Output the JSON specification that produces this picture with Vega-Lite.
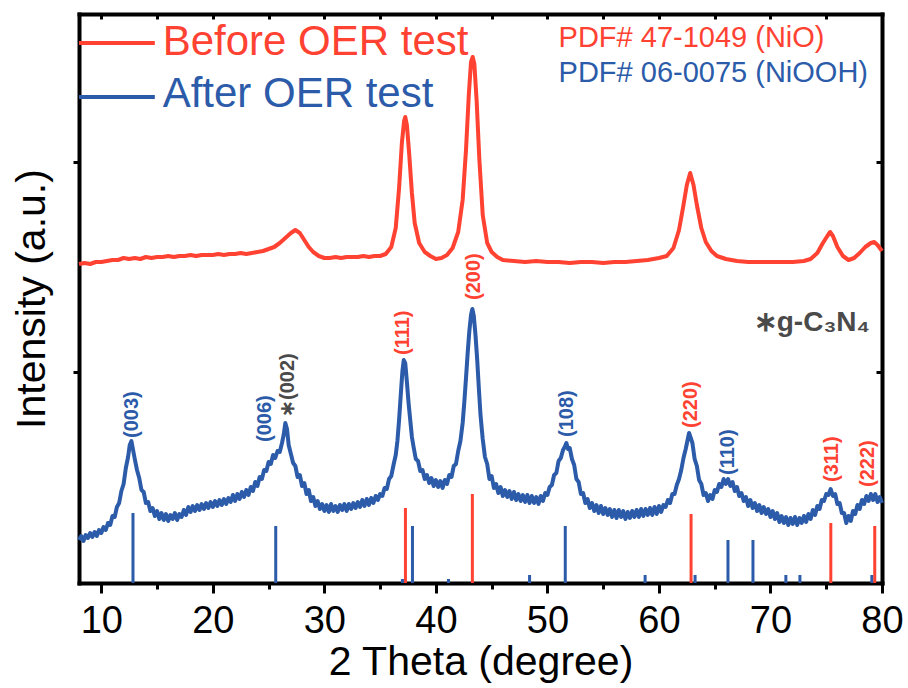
{
  "$schema": "https://vega.github.io/schema/vega-lite/v6.json",
  "width": 803,
  "height": 569,
  "autosize": {"type": "none"},
  "padding": {"left": 79, "top": 14, "right": 26, "bottom": 105},
  "background": "white",
  "config": {"view": {"stroke": null}, "font": "Liberation Sans"},
  "datasets": {
    "curves": [
      {"s":"Before","x":8,"y":319},{"s":"Before","x":8.5,"y":320},{"s":"Before","x":9,"y":319},{"s":"Before","x":9.5,"y":321},{"s":"Before","x":10,"y":321},{"s":"Before","x":10.5,"y":322},{"s":"Before","x":11,"y":323},{"s":"Before","x":11.5,"y":323},{"s":"Before","x":12,"y":325},{"s":"Before","x":12.5,"y":324},{"s":"Before","x":13,"y":325},{"s":"Before","x":13.5,"y":324},{"s":"Before","x":14,"y":326},{"s":"Before","x":14.5,"y":325},{"s":"Before","x":15,"y":326},{"s":"Before","x":15.5,"y":326},{"s":"Before","x":16,"y":327},{"s":"Before","x":16.5,"y":326},{"s":"Before","x":17,"y":327},{"s":"Before","x":17.5,"y":327},{"s":"Before","x":18,"y":328},{"s":"Before","x":18.5,"y":327},{"s":"Before","x":19,"y":328},{"s":"Before","x":19.5,"y":328},{"s":"Before","x":20,"y":328},{"s":"Before","x":20.5,"y":329},{"s":"Before","x":21,"y":328},{"s":"Before","x":21.5,"y":329},{"s":"Before","x":22,"y":329},{"s":"Before","x":22.5,"y":330},{"s":"Before","x":23,"y":329},{"s":"Before","x":23.5,"y":330},{"s":"Before","x":24,"y":331},{"s":"Before","x":24.5,"y":332},{"s":"Before","x":25,"y":334},{"s":"Before","x":25.5,"y":336},{"s":"Before","x":26,"y":340},{"s":"Before","x":26.5,"y":345},{"s":"Before","x":27,"y":350},{"s":"Before","x":27.4,"y":353},{"s":"Before","x":27.8,"y":350},{"s":"Before","x":28.2,"y":343},{"s":"Before","x":28.6,"y":336},{"s":"Before","x":29,"y":331},{"s":"Before","x":29.5,"y":327},{"s":"Before","x":30,"y":325},{"s":"Before","x":30.5,"y":325},{"s":"Before","x":31,"y":326},{"s":"Before","x":31.5,"y":325},{"s":"Before","x":32,"y":326},{"s":"Before","x":32.5,"y":326},{"s":"Before","x":33,"y":326},{"s":"Before","x":33.5,"y":327},{"s":"Before","x":34,"y":326},{"s":"Before","x":34.5,"y":327},{"s":"Before","x":35,"y":327},{"s":"Before","x":35.5,"y":329},{"s":"Before","x":36,"y":336},{"s":"Before","x":36.4,"y":355},{"s":"Before","x":36.7,"y":395},{"s":"Before","x":36.95,"y":440},{"s":"Before","x":37.15,"y":462},{"s":"Before","x":37.25,"y":466},{"s":"Before","x":37.4,"y":458},{"s":"Before","x":37.6,"y":430},{"s":"Before","x":37.85,"y":390},{"s":"Before","x":38.1,"y":360},{"s":"Before","x":38.5,"y":340},{"s":"Before","x":39,"y":331},{"s":"Before","x":39.5,"y":327},{"s":"Before","x":40,"y":324},{"s":"Before","x":40.5,"y":325},{"s":"Before","x":41,"y":328},{"s":"Before","x":41.5,"y":335},{"s":"Before","x":42,"y":351},{"s":"Before","x":42.4,"y":383},{"s":"Before","x":42.7,"y":433},{"s":"Before","x":42.95,"y":488},{"s":"Before","x":43.15,"y":521},{"s":"Before","x":43.3,"y":526},{"s":"Before","x":43.45,"y":519},{"s":"Before","x":43.65,"y":483},{"s":"Before","x":43.9,"y":423},{"s":"Before","x":44.2,"y":368},{"s":"Before","x":44.6,"y":340},{"s":"Before","x":45,"y":331},{"s":"Before","x":45.5,"y":326},{"s":"Before","x":46,"y":323},{"s":"Before","x":47,"y":322},{"s":"Before","x":48,"y":321},{"s":"Before","x":49,"y":322},{"s":"Before","x":50,"y":321},{"s":"Before","x":51,"y":321},{"s":"Before","x":52,"y":320},{"s":"Before","x":53,"y":321},{"s":"Before","x":54,"y":321},{"s":"Before","x":55,"y":320},{"s":"Before","x":56,"y":321},{"s":"Before","x":57,"y":321},{"s":"Before","x":58,"y":322},{"s":"Before","x":59,"y":323},{"s":"Before","x":60,"y":325},{"s":"Before","x":60.7,"y":327},{"s":"Before","x":61.3,"y":335},{"s":"Before","x":61.8,"y":353},{"s":"Before","x":62.2,"y":378},{"s":"Before","x":62.5,"y":398},{"s":"Before","x":62.8,"y":410},{"s":"Before","x":63.1,"y":398},{"s":"Before","x":63.4,"y":378},{"s":"Before","x":63.8,"y":355},{"s":"Before","x":64.2,"y":341},{"s":"Before","x":64.7,"y":332},{"s":"Before","x":65.2,"y":327},{"s":"Before","x":66,"y":324},{"s":"Before","x":67,"y":322},{"s":"Before","x":68,"y":321},{"s":"Before","x":69,"y":321},{"s":"Before","x":70,"y":321},{"s":"Before","x":71,"y":321},{"s":"Before","x":72,"y":321},{"s":"Before","x":73,"y":322},{"s":"Before","x":73.6,"y":324},{"s":"Before","x":74.2,"y":330},{"s":"Before","x":74.7,"y":340},{"s":"Before","x":75.1,"y":347},{"s":"Before","x":75.35,"y":351},{"s":"Before","x":75.6,"y":347},{"s":"Before","x":76,"y":336},{"s":"Before","x":76.5,"y":327},{"s":"Before","x":77,"y":323},{"s":"Before","x":77.5,"y":325},{"s":"Before","x":78,"y":330},{"s":"Before","x":78.5,"y":336},{"s":"Before","x":79,"y":340},{"s":"Before","x":79.3,"y":341},{"s":"Before","x":79.6,"y":338},{"s":"Before","x":80,"y":332},
      {"s":"After","x":8.0,"y":43},{"s":"After","x":8.2,"y":47},{"s":"After","x":8.4,"y":42},{"s":"After","x":8.6,"y":48},{"s":"After","x":8.8,"y":45},{"s":"After","x":9.0,"y":50},{"s":"After","x":9.2,"y":46},{"s":"After","x":9.4,"y":51},{"s":"After","x":9.6,"y":47},{"s":"After","x":9.8,"y":53},{"s":"After","x":10.0,"y":50},{"s":"After","x":10.2,"y":56},{"s":"After","x":10.4,"y":53},{"s":"After","x":10.6,"y":60},{"s":"After","x":10.8,"y":58},{"s":"After","x":11.0,"y":67},{"s":"After","x":11.2,"y":66},{"s":"After","x":11.4,"y":76},{"s":"After","x":11.6,"y":80},{"s":"After","x":11.8,"y":92},{"s":"After","x":12.0,"y":99},{"s":"After","x":12.2,"y":115},{"s":"After","x":12.4,"y":126},{"s":"After","x":12.55,"y":138},{"s":"After","x":12.7,"y":142},{"s":"After","x":12.85,"y":133},{"s":"After","x":13.0,"y":124},{"s":"After","x":13.2,"y":113},{"s":"After","x":13.4,"y":105},{"s":"After","x":13.6,"y":93},{"s":"After","x":13.8,"y":91},{"s":"After","x":14.0,"y":80},{"s":"After","x":14.2,"y":81},{"s":"After","x":14.4,"y":72},{"s":"After","x":14.6,"y":75},{"s":"After","x":14.8,"y":67},{"s":"After","x":15.0,"y":72},{"s":"After","x":15.2,"y":64},{"s":"After","x":15.4,"y":70},{"s":"After","x":15.6,"y":63},{"s":"After","x":15.8,"y":69},{"s":"After","x":16.0,"y":62},{"s":"After","x":16.2,"y":68},{"s":"After","x":16.4,"y":64},{"s":"After","x":16.6,"y":70},{"s":"After","x":16.8,"y":63},{"s":"After","x":17.0,"y":69},{"s":"After","x":17.2,"y":66},{"s":"After","x":17.4,"y":73},{"s":"After","x":17.6,"y":68},{"s":"After","x":17.8,"y":76},{"s":"After","x":18.0,"y":71},{"s":"After","x":18.2,"y":77},{"s":"After","x":18.4,"y":72},{"s":"After","x":18.6,"y":78},{"s":"After","x":18.8,"y":73},{"s":"After","x":19.0,"y":79},{"s":"After","x":19.2,"y":74},{"s":"After","x":19.4,"y":80},{"s":"After","x":19.6,"y":75},{"s":"After","x":19.8,"y":81},{"s":"After","x":20.0,"y":76},{"s":"After","x":20.2,"y":82},{"s":"After","x":20.4,"y":77},{"s":"After","x":20.6,"y":83},{"s":"After","x":20.8,"y":78},{"s":"After","x":21.0,"y":84},{"s":"After","x":21.2,"y":79},{"s":"After","x":21.4,"y":85},{"s":"After","x":21.6,"y":81},{"s":"After","x":21.8,"y":88},{"s":"After","x":22.0,"y":82},{"s":"After","x":22.2,"y":89},{"s":"After","x":22.4,"y":84},{"s":"After","x":22.6,"y":91},{"s":"After","x":22.8,"y":86},{"s":"After","x":23.0,"y":93},{"s":"After","x":23.2,"y":88},{"s":"After","x":23.4,"y":96},{"s":"After","x":23.6,"y":92},{"s":"After","x":23.8,"y":101},{"s":"After","x":24.0,"y":97},{"s":"After","x":24.2,"y":106},{"s":"After","x":24.4,"y":104},{"s":"After","x":24.6,"y":113},{"s":"After","x":24.8,"y":112},{"s":"After","x":25.0,"y":121},{"s":"After","x":25.2,"y":119},{"s":"After","x":25.4,"y":128},{"s":"After","x":25.6,"y":125},{"s":"After","x":25.8,"y":132},{"s":"After","x":26.0,"y":131},{"s":"After","x":26.2,"y":140},{"s":"After","x":26.35,"y":148},{"s":"After","x":26.5,"y":160},{"s":"After","x":26.65,"y":154},{"s":"After","x":26.8,"y":138},{"s":"After","x":27.0,"y":129},{"s":"After","x":27.2,"y":120},{"s":"After","x":27.4,"y":117},{"s":"After","x":27.6,"y":106},{"s":"After","x":27.8,"y":108},{"s":"After","x":28.0,"y":97},{"s":"After","x":28.2,"y":100},{"s":"After","x":28.4,"y":89},{"s":"After","x":28.6,"y":93},{"s":"After","x":28.8,"y":82},{"s":"After","x":29.0,"y":86},{"s":"After","x":29.2,"y":77},{"s":"After","x":29.4,"y":82},{"s":"After","x":29.6,"y":74},{"s":"After","x":29.8,"y":79},{"s":"After","x":30.0,"y":72},{"s":"After","x":30.2,"y":78},{"s":"After","x":30.4,"y":71},{"s":"After","x":30.6,"y":79},{"s":"After","x":30.8,"y":72},{"s":"After","x":31.0,"y":77},{"s":"After","x":31.2,"y":71},{"s":"After","x":31.4,"y":78},{"s":"After","x":31.6,"y":73},{"s":"After","x":31.8,"y":79},{"s":"After","x":32.0,"y":72},{"s":"After","x":32.2,"y":79},{"s":"After","x":32.4,"y":74},{"s":"After","x":32.6,"y":80},{"s":"After","x":32.8,"y":75},{"s":"After","x":33.0,"y":81},{"s":"After","x":33.2,"y":76},{"s":"After","x":33.4,"y":83},{"s":"After","x":33.6,"y":77},{"s":"After","x":33.8,"y":84},{"s":"After","x":34.0,"y":78},{"s":"After","x":34.2,"y":85},{"s":"After","x":34.4,"y":80},{"s":"After","x":34.6,"y":87},{"s":"After","x":34.8,"y":83},{"s":"After","x":35.0,"y":89},{"s":"After","x":35.2,"y":87},{"s":"After","x":35.4,"y":95},{"s":"After","x":35.6,"y":94},{"s":"After","x":35.8,"y":104},{"s":"After","x":36.0,"y":107},{"s":"After","x":36.2,"y":118},{"s":"After","x":36.4,"y":128},{"s":"After","x":36.55,"y":142},{"s":"After","x":36.7,"y":163},{"s":"After","x":36.85,"y":188},{"s":"After","x":37.0,"y":212},{"s":"After","x":37.12,"y":223},{"s":"After","x":37.25,"y":220},{"s":"After","x":37.4,"y":201},{"s":"After","x":37.55,"y":180},{"s":"After","x":37.7,"y":163},{"s":"After","x":37.85,"y":146},{"s":"After","x":38.0,"y":136},{"s":"After","x":38.2,"y":124},{"s":"After","x":38.4,"y":122},{"s":"After","x":38.6,"y":112},{"s":"After","x":38.8,"y":113},{"s":"After","x":39.0,"y":104},{"s":"After","x":39.2,"y":108},{"s":"After","x":39.4,"y":100},{"s":"After","x":39.6,"y":105},{"s":"After","x":39.8,"y":97},{"s":"After","x":40.0,"y":103},{"s":"After","x":40.2,"y":96},{"s":"After","x":40.4,"y":102},{"s":"After","x":40.6,"y":95},{"s":"After","x":40.8,"y":103},{"s":"After","x":41.0,"y":99},{"s":"After","x":41.2,"y":108},{"s":"After","x":41.4,"y":106},{"s":"After","x":41.6,"y":117},{"s":"After","x":41.8,"y":119},{"s":"After","x":42.0,"y":132},{"s":"After","x":42.2,"y":142},{"s":"After","x":42.4,"y":160},{"s":"After","x":42.55,"y":181},{"s":"After","x":42.7,"y":205},{"s":"After","x":42.85,"y":230},{"s":"After","x":43.0,"y":252},{"s":"After","x":43.15,"y":268},{"s":"After","x":43.27,"y":274},{"s":"After","x":43.4,"y":267},{"s":"After","x":43.55,"y":248},{"s":"After","x":43.7,"y":224},{"s":"After","x":43.85,"y":195},{"s":"After","x":44.0,"y":168},{"s":"After","x":44.2,"y":144},{"s":"After","x":44.4,"y":126},{"s":"After","x":44.6,"y":119},{"s":"After","x":44.8,"y":104},{"s":"After","x":45.0,"y":107},{"s":"After","x":45.2,"y":95},{"s":"After","x":45.4,"y":99},{"s":"After","x":45.6,"y":90},{"s":"After","x":45.8,"y":96},{"s":"After","x":46.0,"y":87},{"s":"After","x":46.2,"y":93},{"s":"After","x":46.4,"y":86},{"s":"After","x":46.6,"y":92},{"s":"After","x":46.8,"y":84},{"s":"After","x":47.0,"y":91},{"s":"After","x":47.2,"y":83},{"s":"After","x":47.4,"y":89},{"s":"After","x":47.6,"y":82},{"s":"After","x":47.8,"y":88},{"s":"After","x":48.0,"y":81},{"s":"After","x":48.2,"y":88},{"s":"After","x":48.4,"y":80},{"s":"After","x":48.6,"y":87},{"s":"After","x":48.8,"y":80},{"s":"After","x":49.0,"y":86},{"s":"After","x":49.2,"y":79},{"s":"After","x":49.4,"y":87},{"s":"After","x":49.6,"y":82},{"s":"After","x":49.8,"y":90},{"s":"After","x":50.0,"y":88},{"s":"After","x":50.2,"y":96},{"s":"After","x":50.4,"y":98},{"s":"After","x":50.6,"y":108},{"s":"After","x":50.8,"y":110},{"s":"After","x":51.0,"y":122},{"s":"After","x":51.2,"y":125},{"s":"After","x":51.4,"y":133},{"s":"After","x":51.55,"y":136},{"s":"After","x":51.7,"y":140},{"s":"After","x":51.85,"y":134},{"s":"After","x":52.0,"y":135},{"s":"After","x":52.2,"y":124},{"s":"After","x":52.4,"y":118},{"s":"After","x":52.6,"y":104},{"s":"After","x":52.8,"y":101},{"s":"After","x":53.0,"y":89},{"s":"After","x":53.2,"y":90},{"s":"After","x":53.4,"y":80},{"s":"After","x":53.6,"y":84},{"s":"After","x":53.8,"y":75},{"s":"After","x":54.0,"y":80},{"s":"After","x":54.2,"y":72},{"s":"After","x":54.4,"y":78},{"s":"After","x":54.6,"y":70},{"s":"After","x":54.8,"y":77},{"s":"After","x":55.0,"y":69},{"s":"After","x":55.2,"y":75},{"s":"After","x":55.4,"y":68},{"s":"After","x":55.6,"y":74},{"s":"After","x":55.8,"y":66},{"s":"After","x":56.0,"y":73},{"s":"After","x":56.2,"y":65},{"s":"After","x":56.4,"y":73},{"s":"After","x":56.6,"y":66},{"s":"After","x":56.8,"y":72},{"s":"After","x":57.0,"y":64},{"s":"After","x":57.2,"y":71},{"s":"After","x":57.4,"y":65},{"s":"After","x":57.6,"y":72},{"s":"After","x":57.8,"y":66},{"s":"After","x":58.0,"y":73},{"s":"After","x":58.2,"y":66},{"s":"After","x":58.4,"y":74},{"s":"After","x":58.6,"y":67},{"s":"After","x":58.8,"y":74},{"s":"After","x":59.0,"y":68},{"s":"After","x":59.2,"y":75},{"s":"After","x":59.4,"y":68},{"s":"After","x":59.6,"y":76},{"s":"After","x":59.8,"y":69},{"s":"After","x":60.0,"y":77},{"s":"After","x":60.2,"y":71},{"s":"After","x":60.4,"y":78},{"s":"After","x":60.6,"y":76},{"s":"After","x":60.8,"y":83},{"s":"After","x":61.0,"y":80},{"s":"After","x":61.2,"y":89},{"s":"After","x":61.4,"y":89},{"s":"After","x":61.6,"y":98},{"s":"After","x":61.8,"y":104},{"s":"After","x":62.0,"y":113},{"s":"After","x":62.2,"y":125},{"s":"After","x":62.4,"y":134},{"s":"After","x":62.55,"y":142},{"s":"After","x":62.7,"y":150},{"s":"After","x":62.85,"y":145},{"s":"After","x":63.0,"y":140},{"s":"After","x":63.2,"y":124},{"s":"After","x":63.4,"y":117},{"s":"After","x":63.6,"y":103},{"s":"After","x":63.8,"y":99},{"s":"After","x":64.0,"y":88},{"s":"After","x":64.2,"y":90},{"s":"After","x":64.4,"y":82},{"s":"After","x":64.6,"y":88},{"s":"After","x":64.8,"y":84},{"s":"After","x":65.0,"y":93},{"s":"After","x":65.2,"y":91},{"s":"After","x":65.4,"y":99},{"s":"After","x":65.6,"y":96},{"s":"After","x":65.8,"y":104},{"s":"After","x":66.0,"y":99},{"s":"After","x":66.2,"y":104},{"s":"After","x":66.4,"y":97},{"s":"After","x":66.6,"y":101},{"s":"After","x":66.8,"y":92},{"s":"After","x":67.0,"y":96},{"s":"After","x":67.2,"y":87},{"s":"After","x":67.4,"y":90},{"s":"After","x":67.6,"y":82},{"s":"After","x":67.8,"y":86},{"s":"After","x":68.0,"y":77},{"s":"After","x":68.2,"y":83},{"s":"After","x":68.4,"y":75},{"s":"After","x":68.6,"y":80},{"s":"After","x":68.8,"y":72},{"s":"After","x":69.0,"y":78},{"s":"After","x":69.2,"y":70},{"s":"After","x":69.4,"y":76},{"s":"After","x":69.6,"y":69},{"s":"After","x":69.8,"y":74},{"s":"After","x":70.0,"y":66},{"s":"After","x":70.2,"y":72},{"s":"After","x":70.4,"y":64},{"s":"After","x":70.6,"y":70},{"s":"After","x":70.8,"y":61},{"s":"After","x":71.0,"y":67},{"s":"After","x":71.2,"y":60},{"s":"After","x":71.4,"y":66},{"s":"After","x":71.6,"y":58},{"s":"After","x":71.8,"y":65},{"s":"After","x":72.0,"y":59},{"s":"After","x":72.2,"y":66},{"s":"After","x":72.4,"y":58},{"s":"After","x":72.6,"y":65},{"s":"After","x":72.8,"y":60},{"s":"After","x":73.0,"y":67},{"s":"After","x":73.2,"y":61},{"s":"After","x":73.4,"y":69},{"s":"After","x":73.6,"y":64},{"s":"After","x":73.8,"y":73},{"s":"After","x":74.0,"y":68},{"s":"After","x":74.2,"y":77},{"s":"After","x":74.4,"y":74},{"s":"After","x":74.6,"y":83},{"s":"After","x":74.8,"y":82},{"s":"After","x":75.0,"y":89},{"s":"After","x":75.2,"y":88},{"s":"After","x":75.4,"y":94},{"s":"After","x":75.6,"y":87},{"s":"After","x":75.8,"y":89},{"s":"After","x":76.0,"y":79},{"s":"After","x":76.2,"y":80},{"s":"After","x":76.4,"y":70},{"s":"After","x":76.6,"y":70},{"s":"After","x":76.8,"y":60},{"s":"After","x":77.0,"y":67},{"s":"After","x":77.2,"y":62},{"s":"After","x":77.4,"y":72},{"s":"After","x":77.6,"y":69},{"s":"After","x":77.8,"y":78},{"s":"After","x":78.0,"y":74},{"s":"After","x":78.2,"y":83},{"s":"After","x":78.4,"y":79},{"s":"After","x":78.6,"y":87},{"s":"After","x":78.8,"y":82},{"s":"After","x":79.0,"y":89},{"s":"After","x":79.2,"y":83},{"s":"After","x":79.4,"y":89},{"s":"After","x":79.6,"y":81},{"s":"After","x":79.8,"y":86},{"s":"After","x":80.0,"y":80}
    ],
    "sticks": [
      {"p":"NiOOH","x":12.84,"h":70},{"p":"NiOOH","x":25.64,"h":57},{"p":"NiOOH","x":37.0,"h":4},{"p":"NiOOH","x":37.9,"h":57},{"p":"NiOOH","x":41.13,"h":4},{"p":"NiOOH","x":48.4,"h":8},{"p":"NiOOH","x":51.6,"h":57},{"p":"NiOOH","x":58.76,"h":8},{"p":"NiOOH","x":63.24,"h":8},{"p":"NiOOH","x":66.19,"h":43},{"p":"NiOOH","x":68.43,"h":43},{"p":"NiOOH","x":71.38,"h":8},{"p":"NiOOH","x":72.64,"h":8},{"p":"NiOOH","x":79.09,"h":8},
      {"p":"NiO","x":37.27,"h":75},{"p":"NiO","x":43.27,"h":89},{"p":"NiO","x":62.88,"h":69},{"p":"NiO","x":75.41,"h":60},{"p":"NiO","x":79.35,"h":57}
    ],
    "hkl": [
      {"p":"NiOOH","t":"(003)","x":12.75,"y":145},
      {"p":"NiOOH","t":"(006)","x":24.7,"y":141},
      {"p":"g-C3N4","t":"∗(002)","x":26.7,"y":166},
      {"p":"NiO","t":"(111)","x":37.05,"y":228},
      {"p":"NiO","t":"(200)","x":43.45,"y":283},
      {"p":"NiOOH","t":"(108)","x":51.8,"y":146},
      {"p":"NiO","t":"(220)","x":62.9,"y":155},
      {"p":"NiOOH","t":"(110)","x":66.15,"y":108},
      {"p":"NiO","t":"(311)","x":75.55,"y":101},
      {"p":"NiO","t":"(222)","x":78.7,"y":96}
    ],
    "legend": [
      {"s":"Before","t":"Before OER test","x":8,"x2":14.8,"y":540,"tx":15.5,"ty":528},
      {"s":"After","t":"After OER test","x":8,"x2":14.8,"y":486,"tx":15.5,"ty":476}
    ],
    "pdf": [
      {"p":"NiO","t":"PDF# 47-1049 (NiO)","x":51.0,"y":536},
      {"p":"NiOOH","t":"PDF# 06-0075 (NiOOH)","x":51.0,"y":501}
    ],
    "note": [
      {"p":"g-C3N4","t":"∗g-C₃N₄","x":68.5,"y":252}
    ]
  },
  "resolve": {"axis": {"x": "independent", "y": "independent"}},
  "layer": [
    {
      "data": {"name": "curves"},
      "mark": {"type": "line", "strokeWidth": 4, "strokeJoin": "round"},
      "encoding": {
        "x": {"field": "x", "type": "quantitative", "scale": {"domain": [8, 80], "nice": false, "zero": false},
          "axis": {"orient": "bottom", "values": [10,20,30,40,50,60,70,80], "format": "d", "tickSize": 10, "tickWidth": 3, "tickColor": "#000",
            "domain": true, "domainWidth": 4, "domainColor": "#000", "domainCap": "square", "grid": false,
            "labelFontSize": 38, "labelFont": "Liberation Sans", "labelColor": "#000", "labelPadding": 9, "labelFlush": false, "labelOverlap": false,
            "title": "2 Theta (degree)", "titleFontSize": 41, "titleFont": "Liberation Sans", "titleFontWeight": "normal", "titleColor": "#000", "titlePadding": 2}},
        "y": {"field": "y", "type": "quantitative", "scale": {"domain": [0, 569], "nice": false, "zero": false},
          "axis": {"orient": "left", "values": [211, 421], "tickSize": 6, "tickWidth": 3, "tickColor": "#000", "labels": false,
            "domain": true, "domainWidth": 4, "domainColor": "#000", "domainCap": "square", "grid": false,
            "title": "Intensity (a.u.)", "titleFontSize": 41, "titleFont": "Liberation Sans", "titleFontWeight": "normal", "titleColor": "#000", "titlePadding": 18}},
        "color": {"field": "s", "type": "nominal", "legend": null,
          "scale": {"domain": ["Before", "After", "NiO", "NiOOH", "g-C3N4"], "range": ["#FF4232", "#2B5BA9", "#FF4232", "#2B5BA9", "#4A4A4A"]}}
      }
    },
    {
      "data": {"name": "sticks"},
      "mark": {"type": "rule", "strokeWidth": 3},
      "encoding": {
        "x": {"field": "x", "type": "quantitative", "scale": {"domain": [8, 80], "nice": false, "zero": false},
          "axis": {"orient": "bottom", "values": [15,25,35,45,55,65,75], "tickSize": 6, "tickWidth": 3, "tickColor": "#000", "labels": false, "domain": false, "grid": false, "title": null}},
        "y": {"field": "h", "type": "quantitative", "scale": {"domain": [0, 569], "nice": false, "zero": false},
          "axis": {"orient": "right", "values": [211, 421], "tickSize": -6, "tickWidth": 3, "tickColor": "#000", "labels": false,
            "domain": true, "domainWidth": 4, "domainColor": "#000", "domainCap": "square", "grid": false, "title": null}},
        "y2": {"datum": 0},
        "color": {"field": "p", "type": "nominal", "legend": null}
      }
    },
    {
      "data": {"name": "hkl"},
      "mark": {"type": "text", "angle": 270, "align": "left", "baseline": "middle", "fontSize": 20, "fontWeight": "bold", "font": "Liberation Sans"},
      "encoding": {
        "x": {"field": "x", "type": "quantitative", "scale": {"domain": [8, 80], "nice": false, "zero": false},
          "axis": {"orient": "top", "values": [10,15,20,25,30,35,40,45,50,55,60,65,70,75,80], "tickSize": -5, "tickWidth": 3, "tickColor": "#000", "labels": false,
            "domain": true, "domainWidth": 4, "domainColor": "#000", "domainCap": "square", "grid": false, "title": null}},
        "y": {"field": "y", "type": "quantitative", "scale": {"domain": [0, 569], "nice": false, "zero": false}, "axis": null},
        "text": {"field": "t"},
        "color": {"field": "p", "type": "nominal", "legend": null}
      }
    },
    {
      "data": {"name": "legend"},
      "mark": {"type": "rule", "strokeWidth": 4},
      "encoding": {
        "x": {"field": "x", "type": "quantitative", "scale": {"domain": [8, 80], "nice": false, "zero": false}, "axis": null},
        "x2": {"field": "x2"},
        "y": {"field": "y", "type": "quantitative", "scale": {"domain": [0, 569], "nice": false, "zero": false}, "axis": null},
        "color": {"field": "s", "type": "nominal", "legend": null}
      }
    },
    {
      "data": {"name": "legend"},
      "mark": {"type": "text", "align": "left", "baseline": "alphabetic", "fontSize": 42, "font": "Liberation Sans"},
      "encoding": {
        "x": {"field": "tx", "type": "quantitative", "scale": {"domain": [8, 80], "nice": false, "zero": false}, "axis": null},
        "y": {"field": "ty", "type": "quantitative", "scale": {"domain": [0, 569], "nice": false, "zero": false}, "axis": null},
        "text": {"field": "t"},
        "color": {"field": "s", "type": "nominal", "legend": null}
      }
    },
    {
      "data": {"name": "pdf"},
      "mark": {"type": "text", "align": "left", "baseline": "alphabetic", "fontSize": 29, "font": "Liberation Sans"},
      "encoding": {
        "x": {"field": "x", "type": "quantitative", "scale": {"domain": [8, 80], "nice": false, "zero": false}, "axis": null},
        "y": {"field": "y", "type": "quantitative", "scale": {"domain": [0, 569], "nice": false, "zero": false}, "axis": null},
        "text": {"field": "t"},
        "color": {"field": "p", "type": "nominal", "legend": null}
      }
    },
    {
      "data": {"name": "note"},
      "mark": {"type": "text", "align": "left", "baseline": "alphabetic", "fontSize": 28, "fontWeight": "bold", "font": "Liberation Sans"},
      "encoding": {
        "x": {"field": "x", "type": "quantitative", "scale": {"domain": [8, 80], "nice": false, "zero": false}, "axis": null},
        "y": {"field": "y", "type": "quantitative", "scale": {"domain": [0, 569], "nice": false, "zero": false}, "axis": null},
        "text": {"field": "t"},
        "color": {"field": "p", "type": "nominal", "legend": null}
      }
    }
  ]
}
